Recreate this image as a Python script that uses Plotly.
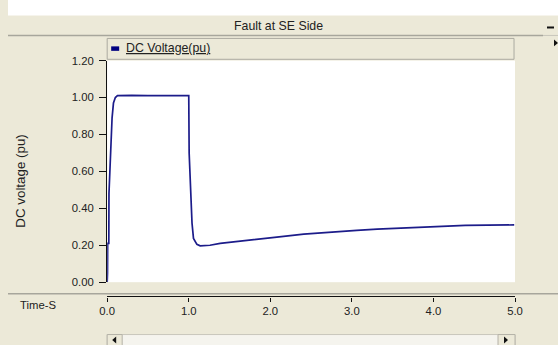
import plotly.graph_objects as go

# Empirical page mapping seen in the photographs: the page is shown scaled by 558/574,
# with the figure offset by the body margin.  Positions below are given in picture pixels.
S = 558 / 574
OFF_X, OFF_Y = 8, 4.5
W, H = 566, 353

# Data (time in s, DC voltage in pu)
time_s = [0.0, 0.004, 0.006, 0.02, 0.022, 0.045, 0.06, 0.077, 0.10, 0.126, 0.3, 0.5, 0.7, 0.9, 1.0, 1.005,
          1.03, 1.04, 1.058, 1.10, 1.14, 1.26, 1.385, 1.65, 1.79, 2.08, 2.41, 2.61, 2.815, 3.06, 3.31,
          3.61, 3.96, 4.39, 4.99]
dc_voltage = [0.0, 0.05, 0.21, 0.21, 0.48, 0.75, 0.89, 0.97, 1.00, 1.01, 1.012, 1.01, 1.01, 1.01, 1.01, 0.70,
              0.45, 0.32, 0.237, 0.205, 0.197, 0.20, 0.21, 0.224, 0.231, 0.244, 0.26, 0.267, 0.272, 0.28, 0.287,
              0.294, 0.30, 0.308, 0.31]

y_ticks = [0.0, 0.2, 0.4, 0.6, 0.8, 1.0, 1.2]
x_ticks = [0, 1, 2, 3, 4, 5]

title_text = "Fault at SE Side"
legend_text = "DC Voltage(pu)"
y_title = "DC voltage (pu)"
x_title = "Time-S"

BEIGE = "#ECE9D8"
NAVY = "#1C1C8A"
FONT = "Liberation Sans, Arial, sans-serif"
FS = 1 / S  # font compensation


def px(x):
    return (x / S - OFF_X) / W


def py(y):
    return 1 - (y / S - OFF_Y) / H


fig = go.Figure()
fig.add_trace(go.Scatter(x=time_s, y=dc_voltage, mode="lines", line=dict(color=NAVY, width=1.7),
                         showlegend=False, xaxis="x", yaxis="y", name=legend_text))
# invisible trace to carry the separate time axis
fig.add_trace(go.Scatter(x=[x_ticks[0], x_ticks[-1]], y=[0, 0], mode="markers", marker=dict(opacity=0),
                         showlegend=False, hoverinfo="skip", xaxis="x2", yaxis="y"))

x_dom = [px(107), px(515)]
fig.update_layout(
    width=W, height=H,
    margin=dict(l=0, r=0, t=0, b=0),
    paper_bgcolor=BEIGE,
    plot_bgcolor="white",
    font=dict(family=FONT, size=11 * FS, color="#222"),
    xaxis=dict(domain=x_dom, range=[0, 5], showticklabels=False, ticks="", showgrid=False,
               zeroline=False, showline=False, anchor="y"),
    xaxis2=dict(domain=x_dom, range=[0, 5], overlaying="x", anchor="free", position=py(296.7),
                side="bottom", showline=True, linecolor="#111", linewidth=1.2, ticks="outside",
                ticklen=4, tickcolor="#111", tickvals=x_ticks, tickformat=".1f", showgrid=False,
                zeroline=False, tickfont=dict(size=11 * FS, color="#222")),
    yaxis=dict(domain=[py(282.3), py(59.3)], range=[0, 1.2], tickvals=y_ticks, tickformat=".2f",
               showline=True, linecolor="#111", linewidth=1.2, ticks="outside", ticklen=7,
               tickcolor="#111", showgrid=False, zeroline=False, ticklabelstandoff=3,
               tickfont=dict(size=11 * FS, color="#222")),
)

shapes = []
# white outer margin at top
shapes.append(dict(type="rect", xref="paper", yref="paper", x0=0, x1=1, y0=py(14), y1=1.02,
                   fillcolor="white", line=dict(width=0), layer="below"))
# title bar separator
shapes.append(dict(type="line", xref="paper", yref="paper", x0=0, x1=px(543), y0=py(34), y1=py(34),
                   line=dict(color="#A7A69C", width=1.5)))
shapes.append(dict(type="line", xref="paper", yref="paper", x0=px(543), x1=1, y0=py(34), y1=py(34),
                   line=dict(color="#C8C6BB", width=1)))
# minus button
shapes.append(dict(type="line", xref="paper", yref="paper", x0=px(547), x1=px(554), y0=py(26), y1=py(26),
                   line=dict(color="#111", width=2)))
# small triangle on right
shapes.append(dict(type="path", xref="paper", yref="paper",
                   path=f"M {px(554)},{py(38)} L {px(558)},{py(41.5)} L {px(554)},{py(45)} Z",
                   fillcolor="#111", line=dict(width=0)))
# legend box
shapes.append(dict(type="rect", xref="paper", yref="paper", x0=px(107), x1=px(514), y0=py(58), y1=py(37),
                   fillcolor=BEIGE, line=dict(color="#ABAAA0", width=1)))
shapes.append(dict(type="rect", xref="paper", yref="paper", x0=px(111), x1=px(119), y0=py(49.5), y1=py(45),
                   fillcolor="#000080", line=dict(width=0)))
# separator above time axis
shapes.append(dict(type="line", xref="paper", yref="paper", x0=0, x1=1, y0=py(294), y1=py(294),
                   line=dict(color="#A7A69C", width=1.5)))
# scrollbar
shapes.append(dict(type="rect", xref="paper", yref="paper", x0=px(107), x1=px(515), y0=py(347), y1=py(335),
                   fillcolor="#F5F4EE", line=dict(color="#C9C7BC", width=1)))
shapes.append(dict(type="rect", xref="paper", yref="paper", x0=px(107), x1=px(122), y0=py(347), y1=py(335),
                   fillcolor=BEIGE, line=dict(color="#B5B3A8", width=1)))
shapes.append(dict(type="rect", xref="paper", yref="paper", x0=px(498), x1=px(515), y0=py(347), y1=py(335),
                   fillcolor=BEIGE, line=dict(color="#B5B3A8", width=1)))
shapes.append(dict(type="path", xref="paper", yref="paper",
                   path=f"M {px(116)},{py(337)} L {px(112)},{py(340.5)} L {px(116)},{py(344)} Z",
                   fillcolor="#111", line=dict(width=0)))
shapes.append(dict(type="path", xref="paper", yref="paper",
                   path=f"M {px(504)},{py(337)} L {px(508)},{py(340.5)} L {px(504)},{py(344)} Z",
                   fillcolor="#111", line=dict(width=0)))
fig.update_layout(shapes=shapes)

annotations = [
    dict(text=title_text, xref="paper", yref="paper", x=px(278), y=py(25), showarrow=False,
         xanchor="center", yanchor="middle", font=dict(size=12 * FS, color="#222")),
    dict(text=f"<u>{legend_text}</u>", xref="paper", yref="paper", x=px(124), y=py(47), showarrow=False,
         xanchor="left", yanchor="middle", font=dict(size=12 * FS, color="#222")),
    dict(text=y_title, xref="paper", yref="paper", x=px(20), y=py(180), showarrow=False, textangle=-90,
         xanchor="center", yanchor="middle", font=dict(size=13 * FS, color="#222")),
    dict(text=x_title, xref="paper", yref="paper", x=px(38), y=py(305), showarrow=False,
         xanchor="center", yanchor="middle", font=dict(size=11 * FS, color="#222")),
]
fig.update_layout(annotations=annotations)

fig.write_html("out.html")
